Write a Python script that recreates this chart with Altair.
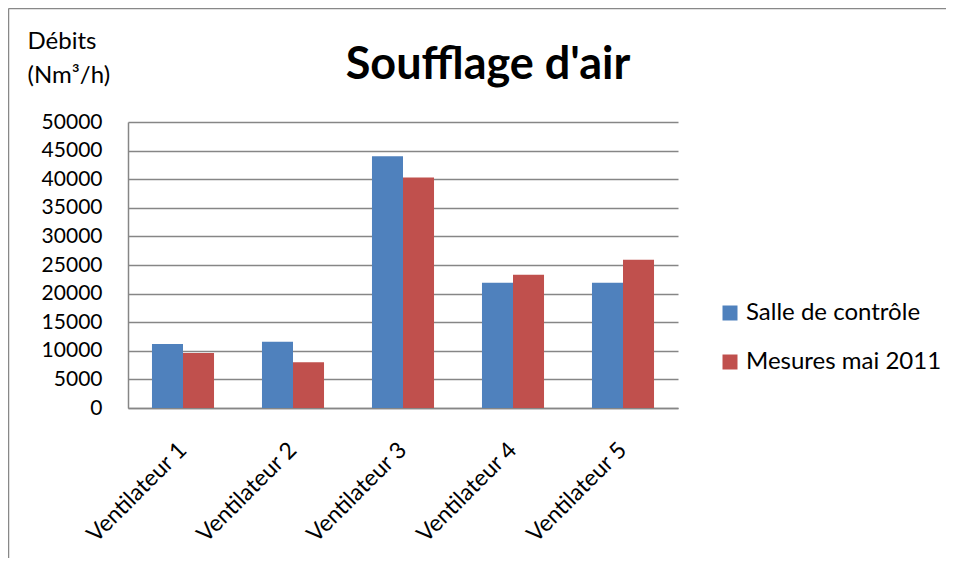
import altair as alt
import pandas as pd

categories = ["Ventilateur 1", "Ventilateur 2", "Ventilateur 3", "Ventilateur 4", "Ventilateur 5"]
series_names = ["Salle de contrôle", "Mesures mai 2011"]
salle_controle = [11200, 11600, 44000, 21900, 21900]
mesures_mai_2011 = [9600, 8000, 40300, 23300, 25900]
y_ticks = [0, 5000, 10000, 15000, 20000, 25000, 30000, 35000, 40000, 45000, 50000]
colors = ["#4F81BD", "#C0504D"]

rows = []
for c, a, b in zip(categories, salle_controle, mesures_mai_2011):
    rows.append({"cat": c, "serie": series_names[0], "val": a})
    rows.append({"cat": c, "serie": series_names[1], "val": b})
df = pd.DataFrame(rows)

FONT = "Lato"
W, H = 550, 286

bars = alt.Chart(df).mark_bar().encode(
    x=alt.X("cat:N", sort=categories,
            scale=alt.Scale(paddingInner=0.436, paddingOuter=0.218),
            axis=alt.Axis(title=None, labelAngle=-45, labelAlign="right", labelBaseline="middle",
                          labelFont=FONT, labelFontSize=23, labelColor="black",
                          labelPadding=38, ticks=False, domainColor="#868686",
                          domainWidth=1.5, grid=False)),
    xOffset=alt.XOffset("serie:N", sort=series_names,
                        scale=alt.Scale(paddingInner=0, paddingOuter=0)),
    y=alt.Y("val:Q", scale=alt.Scale(domain=[0, 50000], nice=False),
            axis=alt.Axis(values=y_ticks, format="d", ticks=False,
                          labelFont=FONT, labelFontSize=21, labelColor="black", labelPadding=26,
                          domainColor="#868686", domainWidth=1.5,
                          gridColor="#868686", gridWidth=1.5,
                          title=["Débits", "(Nm³/h)"], titleAngle=0, titleAlign="left",
                          titleBaseline="alphabetic", titleX=-101, titleY=-74,
                          titleFont=FONT, titleFontSize=24, titleFontWeight="normal",
                          titleColor="black", titleLineHeight=34)),
    color=alt.Color("serie:N", sort=series_names,
                    scale=alt.Scale(domain=series_names, range=colors),
                    legend=alt.Legend(title=None, orient="none", legendX=590, legendY=179,
                                      symbolType="square", symbolSize=225, symbolStrokeWidth=0,
                                      labelFont=FONT, labelFontSize=24, labelColor="black",
                                      labelOffset=4, rowPadding=25, labelLimit=400)),
)

border_v = alt.Chart(alt.Data(values=[{}])).mark_rule(color="#888888", strokeWidth=1.5).encode(
    x=alt.value(-119.5), y=alt.value(-113.5), y2=alt.value(H + 160))
border_h = alt.Chart(alt.Data(values=[{}])).mark_rule(color="#888888", strokeWidth=1.5).encode(
    x=alt.value(-119.5), x2=alt.value(W + 280), y=alt.value(-113.5))

chart = alt.layer(border_v, border_h, bars).properties(
    width=W, height=H,
    title=alt.TitleParams("Soufflage d'air", font=FONT, fontSize=45, fontWeight="bold",
                          color="black", anchor="middle", frame="group", dx=85, offset=10,
                          dy=90),
    autosize=alt.AutoSizeParams(type="none"),
    padding={"left": 120, "top": 114, "right": 268, "bottom": 150},
).configure_view(stroke=None)

chart.save("out.html", embed_options={"renderer": "svg", "actions": False})
